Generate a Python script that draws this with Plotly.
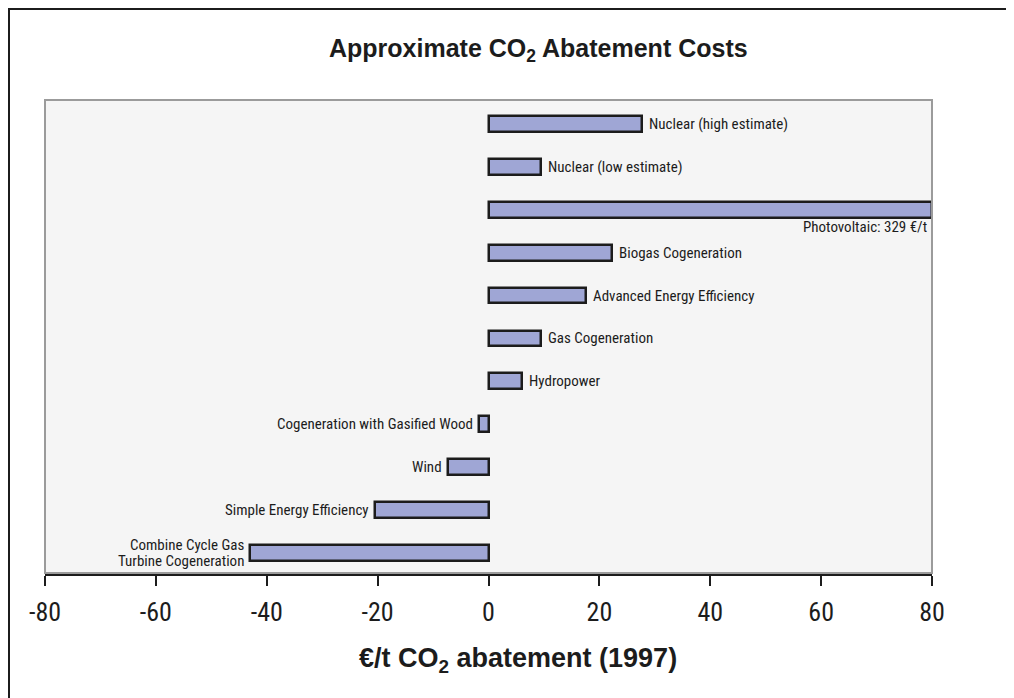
import plotly.graph_objects as go

# ---------------- data ----------------
categories = [
    "Combine Cycle Gas Turbine Cogeneration",
    "Simple Energy Efficiency",
    "Wind",
    "Cogeneration with Gasified Wood",
    "Hydropower",
    "Gas Cogeneration",
    "Advanced Energy Efficiency",
    "Biogas Cogeneration",
    "Photovoltaic",
    "Nuclear (low estimate)",
    "Nuclear (high estimate)",
]
costs = [-43, -20.5, -7.3, -1.8, 6, 9.5, 17.5, 22.3, 329, 9.4, 27.6]
bar_labels = [
    "Combine Cycle Gas<br>Turbine Cogeneration",
    "Simple Energy Efficiency",
    "Wind",
    "Cogeneration with Gasified Wood",
    "Hydropower",
    "Gas Cogeneration",
    "Advanced Energy Efficiency",
    "Biogas Cogeneration",
    "Photovoltaic: 329 €/t",
    "Nuclear (low estimate)",
    "Nuclear (high estimate)",
]
tick_vals = [-80, -60, -40, -20, 0, 20, 40, 60, 80]
tick_text = ["-80", "-60", "-40", "-20", "0", "20", "40", "60", "80"]

X_MIN, X_MAX = -80, 80

# ---------------- layout geometry ----------------
W, H = 1014, 698
ML, MR, MT, MB = 37, 90, 92, 133
PW = W - ML - MR
PH = H - MT - MB


def px(xp):
    return (xp - ML) / PW


def py(yp):
    return (H - MB - yp) / PH


NARROW = "Liberation Sans Narrow, Roboto Condensed, DejaVu Sans Condensed, Arial Narrow, sans-serif"
BOLD = "Liberation Sans, Arial, Helvetica, sans-serif"
INK = "#1c1c1c"
LABEL_FONT = dict(family=NARROW, size=15, color=INK)
LINE_GAP = 16  # px between the two lines of a wrapped bar label

# bars drawn up to the axis limit when the value lies outside it
shown = [max(min(v, X_MAX), X_MIN) for v in costs]

fig = go.Figure()
fig.add_trace(
    go.Bar(
        y=categories,
        x=shown,
        orientation="h",
        width=0.37,
        marker=dict(color="#9fa6d5", line=dict(color=INK, width=2.5)),
        customdata=costs,
        hovertemplate="%{y}: %{customdata} €/t<extra></extra>",
    )
)

annotations = []
for cat, v, s, lab in zip(categories, costs, shown, bar_labels):
    lines = lab.split("<br>")
    n = len(lines)
    for k, line in enumerate(lines):
        dy = ((n - 1) / 2 - k) * LINE_GAP
        if v > X_MAX:
            a = dict(xanchor="right", xshift=-4, yshift=-17 + dy)
        elif v < 0:
            a = dict(xanchor="right", xshift=-5, yshift=dy)
        else:
            a = dict(xanchor="left", xshift=6, yshift=dy)
        a.update(x=s, y=cat, xref="x", yref="y", text=line, showarrow=False,
                 yanchor="middle", font=LABEL_FONT, borderpad=0)
        annotations.append(a)

annotations.append(dict(
    x=px(530), y=py(42), xref="paper", yref="paper",
    text="<b>Approximate CO<sub>2</sub> Abatement Costs</b>",
    showarrow=False, xanchor="center", yanchor="middle",
    font=dict(family=BOLD, size=25, color=INK),
))
annotations.append(dict(
    x=px(510), y=py(652), xref="paper", yref="paper",
    text="<b>€/t CO<sub>2</sub> abatement (1997)</b>",
    showarrow=False, xanchor="center", yanchor="middle",
    font=dict(family=BOLD, size=27, color=INK),
))

shapes = [
    # plot frame (gray)
    dict(type="rect", xref="paper", yref="paper", x0=0, x1=1, y0=0, y1=1,
         line=dict(color="#9b9b9b", width=2), layer="above"),
    # outer page frame
    dict(type="rect", xref="paper", yref="paper", x0=px(1), x1=px(W - 1),
         y0=py(H - 1), y1=py(1), line=dict(color=INK, width=2)),
]

fig.update_layout(
    width=W, height=H,
    margin=dict(l=ML, r=MR, t=MT, b=MB, pad=0),
    paper_bgcolor="white",
    plot_bgcolor="#f5f5f5",
    showlegend=False,
    annotations=annotations,
    shapes=shapes,
    bargap=0,
)
fig.update_xaxes(
    range=[X_MIN, X_MAX],
    tickmode="array", tickvals=tick_vals, ticktext=tick_text,
    ticks="outside", ticklen=10, tickwidth=2, tickcolor=INK,
    showline=True, linecolor=INK, linewidth=3,
    showgrid=False, zeroline=False,
    ticklabelstandoff=4,
    tickfont=dict(family=NARROW, size=26, color=INK),
)
fig.update_yaxes(
    type="category", categoryorder="array", categoryarray=categories,
    range=[-0.47, 10.56],
    showticklabels=False, showgrid=False, zeroline=False, showline=False,
)

fig.write_html("out.html")
